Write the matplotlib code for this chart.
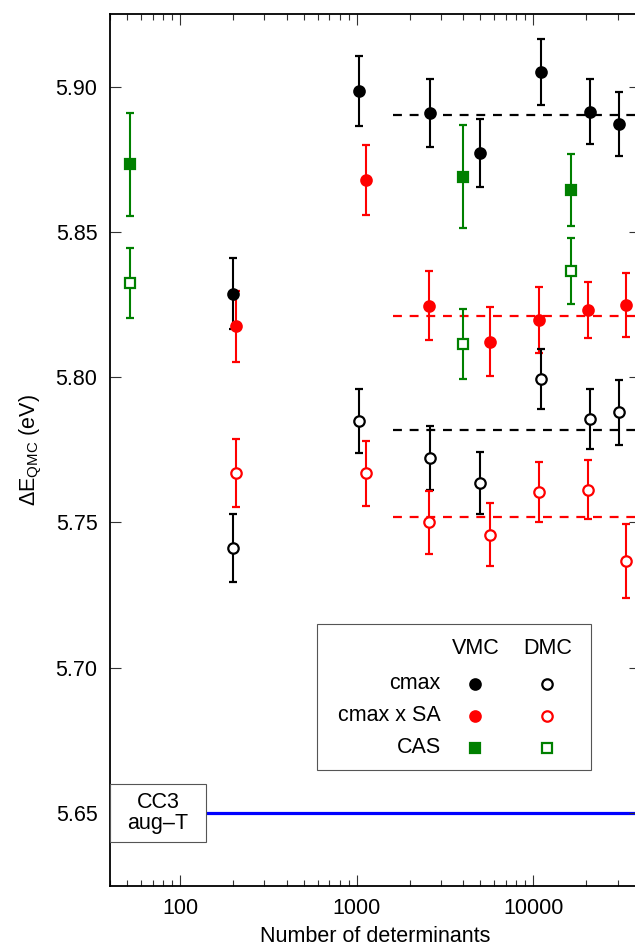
import matplotlib
matplotlib.use("Agg")
import matplotlib.pyplot as plt
from matplotlib.patches import Rectangle
from matplotlib.ticker import LogLocator, FuncFormatter, NullLocator, NullFormatter

plt.rcParams["font.family"] = ["Liberation Sans", "DejaVu Sans"]
plt.rcParams["font.size"] = 15.5

# cmax series (VMC filled, DMC open)
cmax_ndet = [200, 1030, 2600, 5000, 11000, 21000, 30600]
cmax_vmc = [5.8288, 5.8984, 5.8910, 5.8770, 5.9051, 5.8913, 5.8872]
cmax_vmc_err = [0.0122, 0.0120, 0.0117, 0.0117, 0.0114, 0.0112, 0.0111]
cmax_dmc = [5.7412, 5.7850, 5.7722, 5.7636, 5.7995, 5.7856, 5.7879]
cmax_dmc_err = [0.0117, 0.0111, 0.0110, 0.0108, 0.0103, 0.0102, 0.0112]

# cmax x SA series
sa_ndet = [207, 1130, 2580, 5700, 10700, 20500, 33500]
sa_vmc = [5.8175, 5.8678, 5.8246, 5.8122, 5.8198, 5.8232, 5.8249]
sa_vmc_err = [0.0122, 0.0120, 0.0119, 0.0118, 0.0113, 0.0097, 0.0110]
sa_dmc = [5.7669, 5.7670, 5.7500, 5.7458, 5.7604, 5.7613, 5.7367]
sa_dmc_err = [0.0117, 0.0112, 0.0110, 0.0108, 0.0104, 0.0102, 0.0128]

# CAS series
cas_ndet = [52, 4000, 16400]
cas_vmc = [5.8733, 5.8690, 5.8644]
cas_vmc_err = [0.0178, 0.0178, 0.0123]
cas_dmc = [5.8324, 5.8115, 5.8366]
cas_dmc_err = [0.0121, 0.0120, 0.0114]

# averages (dashed) and CC3 reference
avg_start = 1600
cmax_vmc_avg = 5.8904
cmax_dmc_avg = 5.7820
sa_vmc_avg = 5.8212
sa_dmc_avg = 5.7520
cc3_value = 5.65
cc3_start = 140

x_min, x_max = 40, 40200
y_min, y_max = 5.625, 5.925

GREEN = "#008000"
RED = "#ff0000"
BLACK = "#000000"

fig = plt.figure(figsize=(6.35, 9.49), dpi=100)
ax = fig.add_axes([110 / 635, 1 - 885.7 / 949, 530 / 635, 871.7 / 949])
ax.set_xscale("log")
ax.set_xlim(x_min, x_max)
ax.set_ylim(y_min, y_max)

# dashed averages
dash_kw = dict(linewidth=1.6, linestyles=(0, (4, 3.5)), zorder=1)
ax.hlines(cmax_vmc_avg, avg_start, x_max, colors=BLACK, **dash_kw)
ax.hlines(cmax_dmc_avg, avg_start, x_max, colors=BLACK, **dash_kw)
ax.hlines(sa_vmc_avg, avg_start, x_max, colors=RED, **dash_kw)
ax.hlines(sa_dmc_avg, avg_start, x_max, colors=RED, **dash_kw)

# CC3 line
ax.hlines(cc3_value, cc3_start, x_max, colors="#0000ff", linewidth=2.3, zorder=1)

eb = dict(linestyle="none", capsize=3.2, elinewidth=1.5, capthick=1.5,
          markeredgewidth=1.6, zorder=3)
ax.errorbar(cmax_ndet, cmax_vmc, yerr=cmax_vmc_err, fmt="o", color=BLACK,
            mfc=BLACK, ms=7.5, **eb)
ax.errorbar(sa_ndet, sa_vmc, yerr=sa_vmc_err, fmt="o", color=RED,
            mfc=RED, ms=7.5, **eb)
ax.errorbar(cas_ndet, cas_vmc, yerr=cas_vmc_err, fmt="s", color=GREEN,
            mfc=GREEN, ms=7.5, **eb)
ax.errorbar(cmax_ndet, cmax_dmc, yerr=cmax_dmc_err, fmt="o", color=BLACK,
            mfc="white", ms=7.5, **eb)
ax.errorbar(sa_ndet, sa_dmc, yerr=sa_dmc_err, fmt="o", color=RED,
            mfc="white", ms=7.5, **eb)
ax.errorbar(cas_ndet, cas_dmc, yerr=cas_dmc_err, fmt="s", color=GREEN,
            mfc="white", ms=7.5, **eb)

# CC3 label box
ax.add_patch(Rectangle((0, 0.0498), 0.181, 0.0665, transform=ax.transAxes,
                       facecolor="white", edgecolor="#555555", linewidth=0.8,
                       zorder=4))
ax.text(0.0905, 0.0831, "CC3\naug\u2013T", transform=ax.transAxes,
        ha="center", va="center", linespacing=1.0, zorder=5)

# manual legend
ax.add_patch(Rectangle((0.391, 0.1327), 0.516, 0.1672, transform=ax.transAxes,
                       facecolor="white", edgecolor="#555555", linewidth=0.8,
                       zorder=4))
ax.text(0.6896, 0.2723, "VMC", transform=ax.transAxes, ha="center", va="center", zorder=5)
ax.text(0.825, 0.2723, "DMC", transform=ax.transAxes, ha="center", va="center", zorder=5)
rows = [("cmax", BLACK, "o"), ("cmax x SA", RED, "o"), ("CAS", GREEN, "s")]
row_y = [0.2316, 0.1949, 0.1583]
for (label, col, mk), yy in zip(rows, row_y):
    ax.text(0.624, yy, label, transform=ax.transAxes, ha="right", va="center", zorder=5)
    ax.plot([0.6896], [yy], marker=mk, color=col, mfc=col, ms=7.5,
            mew=1.6, transform=ax.transAxes, zorder=5, linestyle="none")
    ax.plot([0.825], [yy], marker=mk, color=col, mfc="white", ms=7.5,
            mew=1.6, transform=ax.transAxes, zorder=5, linestyle="none")

# ticks
ax.set_yticks([5.65, 5.70, 5.75, 5.80, 5.85, 5.90])
ax.yaxis.set_major_formatter(FuncFormatter(lambda v, p: f"{v:.2f}"))
ax.yaxis.set_minor_locator(NullLocator())
ax.xaxis.set_major_locator(LogLocator(base=10, numticks=10))
ax.xaxis.set_minor_locator(LogLocator(base=10, subs=range(2, 10), numticks=10))
ax.xaxis.set_major_formatter(FuncFormatter(lambda v, p: f"{int(round(v))}"))
ax.xaxis.set_minor_formatter(NullFormatter())
ax.tick_params(which="both", direction="in", top=True, right=True,
               color="#333333", width=0.8)
ax.tick_params(which="major", length=8, pad=9)
ax.tick_params(which="minor", length=4.5)

for s in ax.spines.values():
    s.set_linewidth(1.3)

ax.set_xlabel("Number of determinants", labelpad=5)
ax.set_ylabel("\u0394E$_\\mathregular{QMC}$ (eV)", labelpad=8)

fig.savefig("out.png", dpi=100)
